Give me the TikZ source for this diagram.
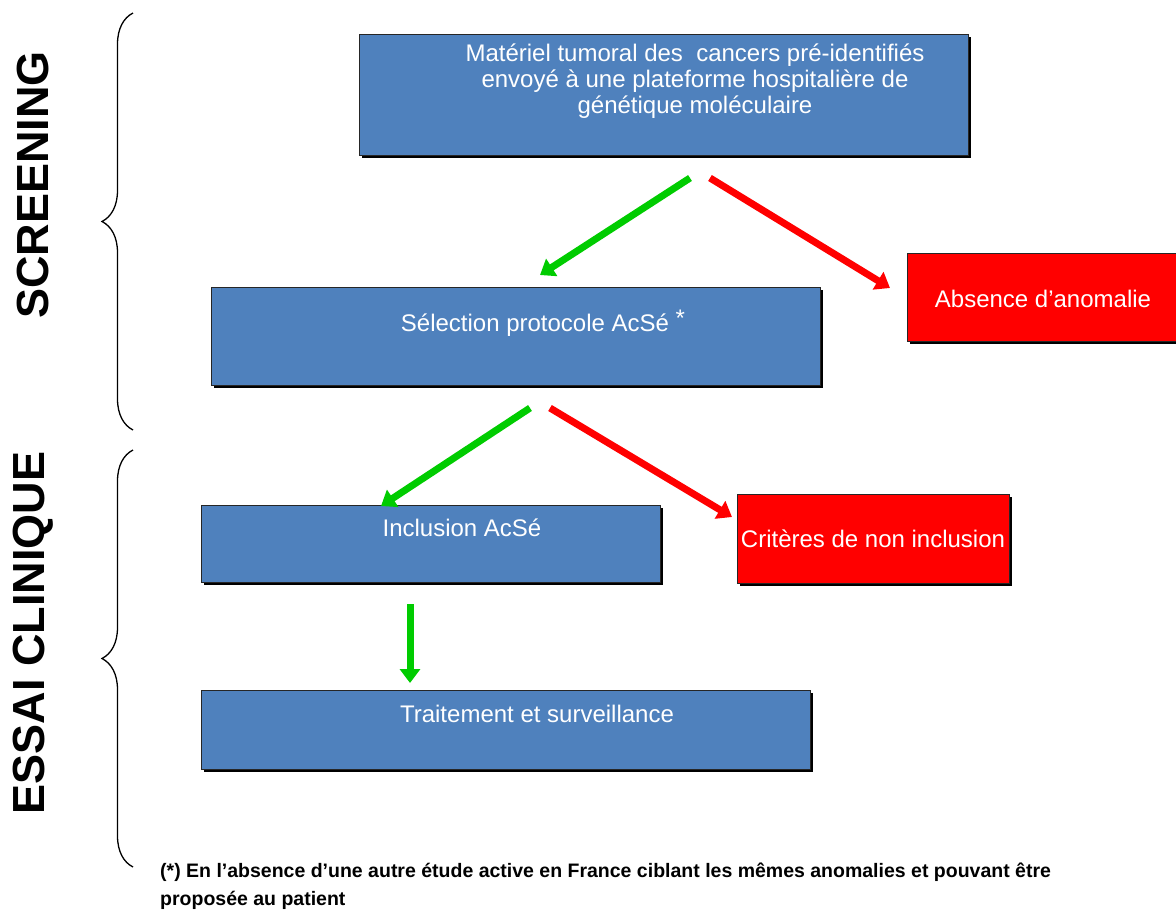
\documentclass[tikz,border=0pt]{standalone}
\usepackage{fontspec}
\setmainfont{Liberation Sans}
\usetikzlibrary{arrows.meta,decorations.pathreplacing,shadows}
\definecolor{boxblue}{RGB}{79,129,189}
\definecolor{arrgreen}{RGB}{0,204,0}
\definecolor{arrred}{RGB}{255,0,0}
\begin{document}
\begin{tikzpicture}[x=1pt,y=-1pt,
  boxbase/.style={draw=black!85, line width=1pt, inner sep=0pt, anchor=north west,
    drop shadow={shadow xshift=2.5pt, shadow yshift=-2.5pt, fill=black, opacity=1}},
  bluebox/.style={boxbase, fill=boxblue},
  redbox/.style={boxbase, fill=arrred},
  boxtxt/.style={text=white, font=\fontsize{24}{26}\selectfont, inner sep=0pt, anchor=base, align=center},
  okarrow/.style={draw=arrgreen, line width=7pt, -{Triangle[length=14pt,width=20pt]}},
  noarrow/.style={draw=arrred, line width=7pt, -{Triangle[length=14pt,width=20pt]}},
  phase/.style={font=\fontsize{45}{45}\selectfont\bfseries, rotate=90, inner sep=0pt},
  bracestyle/.style={draw=black, line width=1.3pt, decorate, decoration={brace, amplitude=31pt}}
]
\useasboundingbox (0,0) rectangle (1176,911);

% boxes
\node[bluebox, minimum width=609pt, minimum height=121pt] (mat) at (359,34) {};
\node[bluebox, minimum width=609pt, minimum height=98pt] (sel) at (211,287) {};
\node[redbox, minimum width=269pt, minimum height=88pt] (abs) at (907,253) {};
\node[bluebox, minimum width=459pt, minimum height=77pt] (inc) at (201,505) {};
\node[redbox, minimum width=272pt, minimum height=89pt] (crit) at (737,494) {};
\node[bluebox, minimum width=609pt, minimum height=79pt] (trt) at (201,690) {};

% texts
\node[boxtxt] (matT) at (695,113) {Matériel tumoral des\ \ cancers pré-identifiés\\envoyé à une plateforme hospitalière de\\génétique moléculaire};
\node[boxtxt] (selT) at (543,331) {Sélection protocole AcSé \raisebox{5pt}{*}};
\node[boxtxt] (absT) at (1043,307) {Absence d’anomalie};
\node[boxtxt] (incT) at (462,536) {Inclusion AcSé};
\node[boxtxt] (critT) at (873,547) {Critères de non inclusion};
\node[boxtxt] (trtT) at (537,722) {Traitement et surveillance};

% arrow end points
\coordinate (g1s) at (690,178); \coordinate (g1e) at (540,275);
\coordinate (r1s) at (710,178); \coordinate (r1e) at (890,288);
\coordinate (g2s) at (530,408); \coordinate (g2e) at (381,506);
\coordinate (r2s) at (550,408); \coordinate (r2e) at (732,517);
\coordinate (g3s) at (410,604); \coordinate (g3e) at (410,683);

\draw[okarrow] (g1s) -- (g1e);
\draw[noarrow] (r1s) -- (r1e);
\draw[okarrow] (g2s) -- (g2e);
\draw[noarrow] (r2s) -- (r2e);
\draw[okarrow] (g3s) -- (g3e);

% braces
\coordinate (b1t) at (133,13); \coordinate (b1b) at (133,430);
\coordinate (b2t) at (133,450); \coordinate (b2b) at (133,867);
\draw[bracestyle] (b1b) -- (b1t);
\draw[bracestyle] (b2b) -- (b2t);

% phase labels
\node[phase] (scr) at (33,185) {SCREENING};
\node[phase] (ess) at (33,633) {ESSAI CLINIQUE};

% footnote
\node[font=\fontsize{19.5}{28}\selectfont\bfseries, anchor=base west, inner sep=0pt, align=left] (fn) at (160,905)
  {(*) En l'absence d'une autre étude active en France ciblant les mêmes anomalies et pouvant être\\proposée au patient};
\end{tikzpicture}
\end{document}
